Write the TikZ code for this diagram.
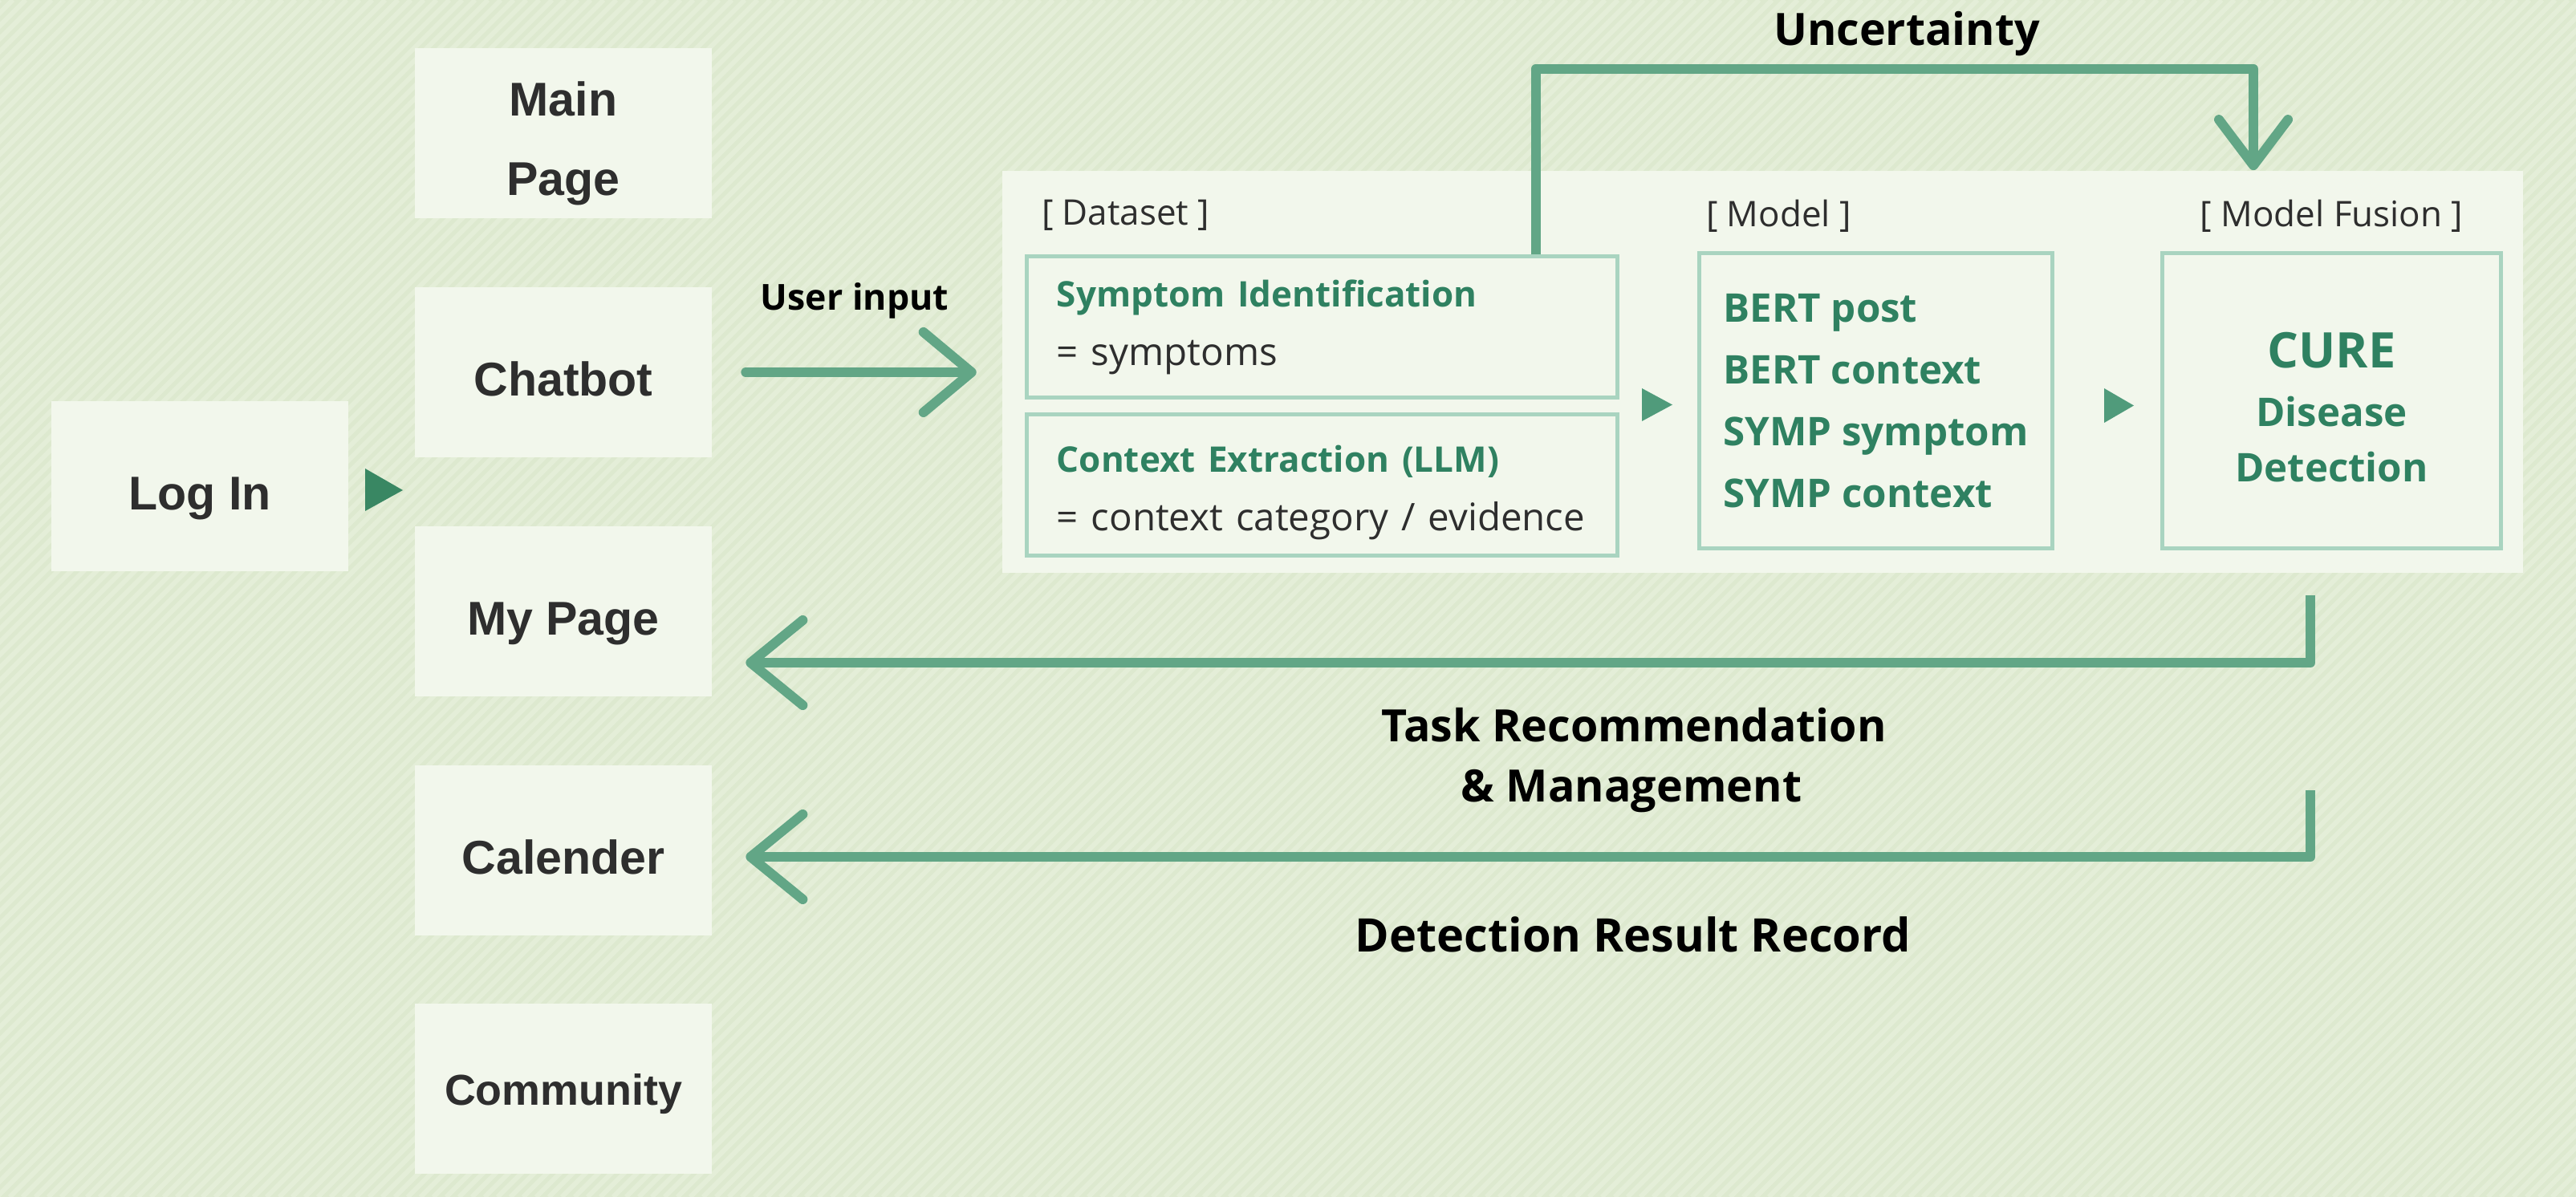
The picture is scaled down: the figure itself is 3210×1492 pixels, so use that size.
\documentclass[tikz,border=0pt]{standalone}
\usepackage{xcolor}
\usepackage{fontspec}
\setmainfont{Open Sans}
\newfontfamily\menufont{Liberation Sans}
\usepackage{tikz}
\usetikzlibrary{arrows.meta,positioning}

\definecolor{bgcol}{HTML}{DDE9CF}
\definecolor{stripecol}{HTML}{E4EED8}
\definecolor{boxfill}{HTML}{F2F7EC}
\definecolor{boxline}{HTML}{A9D4C0}
\definecolor{leafgreen}{HTML}{2F8161}
\definecolor{flowgreen}{HTML}{62A686}
\definecolor{tipgreen}{HTML}{509B7B}
\definecolor{darktip}{HTML}{398763}
\definecolor{inkgray}{HTML}{2E2E2E}

\begin{document}
\begin{tikzpicture}[x=0.01cm,y=-0.01cm]
			\tikzstyle{menu} = [fill=boxfill, minimum width=3.69cm, minimum height=2.12cm, text=inkgray, align=center, font=\menufont\bfseries\fontsize{16.8}{28}\selectfont]
			\tikzstyle{oneline} = [text height=16.6pt, text depth=0pt]
			\tikzstyle{inner} = [draw=boxline, line width=0.05cm, fill=boxfill, minimum height=3.67cm]
			\tikzstyle{tag} = [inner sep=0pt, text=inkgray, font=\fontsize{12.5}{15}\selectfont]
			\tikzstyle{lbl} = [inner sep=0pt, text=black, font=\bfseries\fontsize{15.8}{20}\selectfont]
			\tikzset{flow/.style = {draw=flowgreen, line width=0.12cm, line join=round, -{Straight Barb[length=0.6cm, width=1.0cm, round]}}}
			
			\useasboundingbox (0,0) rectangle (3210,1492);
			\begin{scope}
				\clip (0,0) rectangle (3210,1492);
				\fill[bgcol] (0,0) rectangle (3210,1492);
				\foreach \i in {0,...,295}
					\draw[stripecol, line width=0.06cm] (\i*16-1492,1492) -- ++(1492,-1492);
			\end{scope}
			
			\node[menu, oneline](login) at (249,606) {Log In};
			\node[menu](mainpage) at (702,166) {\rule{0pt}{19.5pt}Main\\Page};
			\node[menu, oneline](chatbot) at (702,464) {Chatbot};
			\node[menu, oneline](mypage) at (702,762) {My Page};
			\node[menu, oneline](calender) at (702,1060) {Calender};
			\node[menu, text height=11.8pt, text depth=0pt, font=\menufont\bfseries\fontsize{15.3}{20}\selectfont](community) at (702,1357) {Community};
			\fill[darktip] (455,584) -- (502,611) -- (455,637) -- cycle;
			
			\node[fill=boxfill, minimum width=18.93cm, minimum height=5.01cm](panel) at (2196.5,463.5) {};
			
			\node[inner, minimum width=7.35cm, minimum height=1.75cm, text width=6.61cm, align=left, text=inkgray, font=\fontsize{13.5}{20.8}\selectfont](symid) at (1647.5,407.5)
				{\rule{0pt}{10pt}{\color{leafgreen}\bfseries\fontsize{12.5}{20.8}\selectfont Symptom Identification}\\= symptoms};
			\node[inner, minimum width=7.35cm, minimum height=1.75cm, text width=6.61cm, align=left, text=inkgray, font=\fontsize{13.5}{20.8}\selectfont](context) at (1647.5,604.5)
				{\rule{0pt}{14.9pt}{\color{leafgreen}\bfseries\fontsize{12.5}{20.8}\selectfont Context Extraction (LLM)}\\\mbox{= context category / evidence}};
			\node[inner, minimum width=4.39cm, align=left, text=leafgreen, font=\bfseries\fontsize{14}{21.9}\selectfont](model) at (2337.5,499.5)
				{BERT post\\BERT context\\SYMP symptom\\SYMP context};
			\node[inner, minimum width=4.21cm, align=center, text=leafgreen, font=\bfseries\fontsize{14}{19.6}\selectfont](fusion) at (2905.5,499.5)
				{\rule{0pt}{17.4pt}{\fontsize{17.4}{19.6}\selectfont CURE}\\[1.2pt]Disease\\Detection};
			
			\node[tag, anchor=base west](datasettag) at ([xshift=0.2cm,yshift=0.37cm]symid.north west) {[ Dataset ]};
			\node[tag, anchor=base west](modeltag) at ([xshift=0.1cm,yshift=0.31cm]model.north west) {[ Model ]};
			\node[tag, anchor=base](fusiontag) at ([yshift=0.31cm]fusion.north) {[ Model Fusion ]};
			
			\fill[tipgreen] (2046,484) -- (2084,504.5) -- (2046,525) -- cycle;
			\fill[tipgreen] (2622,484) -- (2659,505.5) -- (2622,527) -- cycle;
			
			\coordinate (ucorner) at (2808,86);
			\draw[flow, -{Straight Barb[length=0.57cm, width=0.86cm, round]}] ([xshift=6.36cm]symid.north west) |- (ucorner) -- (ucorner |- panel.north);
			\node[lbl, anchor=base](uncertainty) at (2376,57) {Uncertainty};
			
			\draw[flow, line cap=round] ([xshift=0.42cm]chatbot.east) -- ([xshift=-0.32cm]panel.west |- chatbot.east);
			\node[lbl, anchor=base, font=\bfseries\fontsize{12.7}{15}\selectfont](userinput) at (1065,387) {User input};
			
			\coordinate (taskstart) at (2879,742);
			\coordinate (recordstart) at (2879,985);
			\draw[flow, -{Straight Barb[length=0.65cm, width=1.06cm, round]}] (taskstart) |- ([xshift=0.42cm,yshift=-0.64cm]mypage.east);
			\draw[flow, -{Straight Barb[length=0.65cm, width=1.06cm, round]}] (recordstart) |- ([xshift=0.42cm,yshift=-0.08cm]calender.east);
			\node[lbl, anchor=base](task) at (2036,924) {Task Recommendation};
			\node[lbl, anchor=base](management) at (2033,999) {\& Management};
			\node[lbl, anchor=base, font=\bfseries\fontsize{16.4}{20}\selectfont](record) at (2035,1186) {Detection Result Record};
			
\end{tikzpicture}
\end{document}
